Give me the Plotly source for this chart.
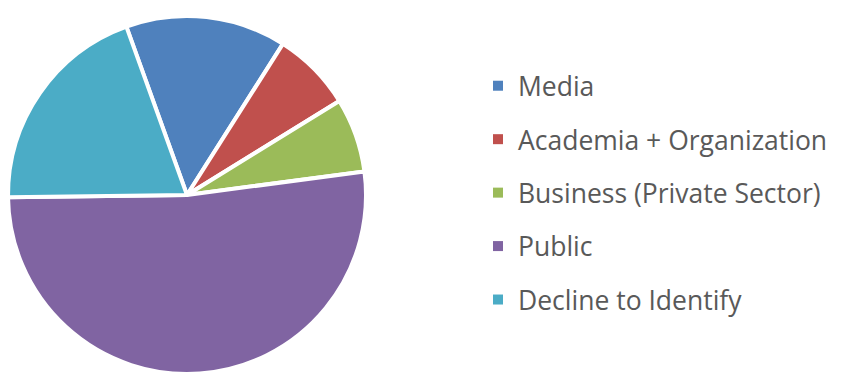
import plotly.graph_objects as go

labels = ["Media", "Academia + Organization", "Business (Private Sector)", "Public", "Decline to Identify"]
values = [14.5, 7.2, 6.7, 51.9, 19.7]
colors = ["#4F81BD", "#C0504D", "#9BBB59", "#8064A2", "#4BACC6"]

W, H = 844, 392
cx, cy, r = 187, 195, 179

fig = go.Figure()
fig.add_trace(go.Pie(
    labels=labels, values=values, sort=False, direction="clockwise",
    rotation=-19.8, textinfo="none", hoverinfo="label+percent",
    marker=dict(colors=colors, line=dict(color="white", width=4)),
    domain=dict(x=[(cx - r) / W, (cx + r) / W], y=[(H - cy - r) / H, (H - cy + r) / H]),
    showlegend=False,
))
for lab, col in zip(labels, colors):
    fig.add_trace(go.Scatter(
        x=[None], y=[None], mode="markers", name=lab, legendgroup=lab,
        marker=dict(symbol="square", size=10, color=col),
        showlegend=True,
    ))

fig.update_layout(
    width=W, height=H,
    margin=dict(l=0, r=0, t=0, b=0),
    paper_bgcolor="white", plot_bgcolor="white",
    xaxis=dict(visible=False), yaxis=dict(visible=False),
    legend=dict(
        x=478 / W, xanchor="left", y=1 - 62 / H, yanchor="top",
        font=dict(family="Open Sans", size=26.5, color="#595959"),
        tracegroupgap=16, bgcolor="rgba(0,0,0,0)",
    ),
)
fig.write_html("out.html")
